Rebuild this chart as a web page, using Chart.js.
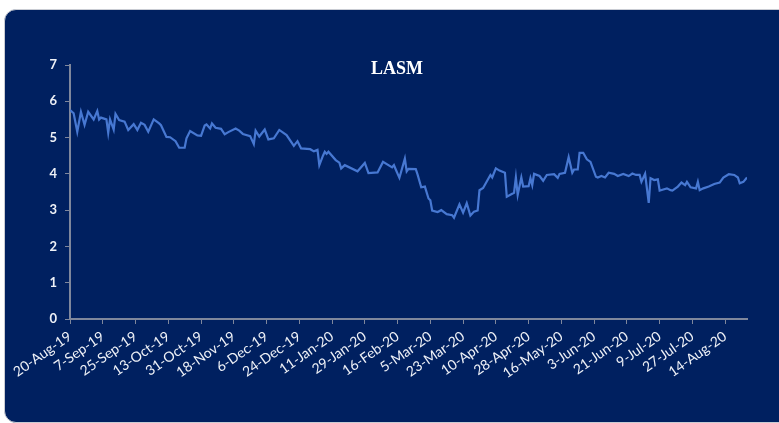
<!DOCTYPE html>
<html>
<head>
<meta charset="utf-8">
<script src="https://cdn.jsdelivr.net/npm/chart.js@4"></script>
<style>
  html, body { margin: 0; padding: 0; background: #fff; }
  #panel {
    position: absolute; left: 4px; top: 9px; width: 800px; height: 412px;
    background: #002060; border: 1px solid #c9ccd3; border-radius: 12px;
  }
  #wrap { position: absolute; left: 0; top: 0; width: 779px; height: 423px; }
</style>
</head>
<body>
<div id="panel"></div>
<div id="wrap"><canvas id="lasmChart" width="779" height="423"></canvas></div>
<script>
// days since 20-Aug-19
const days = [0, 2, 4, 6, 8, 10, 13, 15, 16, 17, 20, 21, 22, 24, 25, 27, 30, 32, 35, 37,
  39, 41, 43, 46, 49, 50, 53, 55, 58, 60, 63, 64, 66, 70, 72, 74, 75, 77, 78, 80,
  83, 85, 87, 91, 93, 95, 99, 101, 102, 104, 107, 109, 112, 115, 119, 123, 125, 127, 132, 134,
  136, 137, 139, 140, 141, 142, 146, 148, 149, 151, 158, 162, 164, 169, 172, 177, 178, 179, 181, 184,
  185, 186, 190, 191, 193, 195, 197, 198, 199, 202, 204, 207, 210, 211, 214, 216, 218, 220, 222, 224,
  225, 227, 228, 231, 232, 234, 236, 239, 240, 244, 245, 246, 248, 249, 252, 253, 254, 255, 258, 260,
  262, 266, 268, 269, 272, 274, 276, 277, 279, 280, 282, 284, 286, 289, 290, 292, 294, 296, 299, 301,
  304, 307, 309, 311, 313, 314, 316, 318, 319, 321, 323, 324, 326, 328, 330, 331, 334, 336, 338, 339,
  341, 344, 345, 346, 348, 351, 354, 357, 359, 362, 365, 367, 368, 370, 372];

const lasm = [5.76, 5.67, 5.16, 5.71, 5.35, 5.71, 5.50, 5.73, 5.50, 5.55, 5.50, 5.13, 5.50, 5.22, 5.65, 5.48, 5.44, 5.21, 5.37, 5.21,
  5.41, 5.35, 5.16, 5.50, 5.39, 5.34, 5.02, 5.01, 4.90, 4.72, 4.72, 4.98, 5.18, 5.06, 5.05, 5.33, 5.36, 5.25, 5.39, 5.27,
  5.24, 5.09, 5.15, 5.25, 5.19, 5.10, 5.04, 4.82, 5.19, 5.03, 5.22, 4.95, 4.98, 5.21, 5.07, 4.77, 4.90, 4.70, 4.68, 4.62,
  4.66, 4.24, 4.50, 4.61, 4.55, 4.61, 4.38, 4.31, 4.15, 4.24, 4.07, 4.30, 4.02, 4.04, 4.33, 4.18, 4.24, 4.12, 3.89, 4.42,
  4.07, 4.14, 4.13, 3.98, 3.63, 3.65, 3.32, 3.27, 2.99, 2.95, 3.00, 2.89, 2.86, 2.79, 3.16, 2.93, 3.19, 2.85, 2.96, 2.99,
  3.55, 3.61, 3.70, 3.97, 3.90, 4.15, 4.09, 4.03, 3.37, 3.48, 3.90, 3.42, 3.90, 3.65, 3.66, 3.88, 3.69, 4.00, 3.94, 3.81,
  3.97, 3.99, 3.89, 4.00, 4.03, 4.46, 4.03, 4.12, 4.12, 4.58, 4.58, 4.40, 4.33, 3.92, 3.90, 3.94, 3.90, 4.03, 4.00, 3.94,
  4.00, 3.94, 4.01, 3.97, 3.97, 3.78, 4.00, 3.20, 3.88, 3.83, 3.85, 3.54, 3.57, 3.60, 3.55, 3.54, 3.65, 3.76, 3.69, 3.78,
  3.63, 3.60, 3.78, 3.55, 3.60, 3.65, 3.72, 3.76, 3.90, 3.99, 3.97, 3.90, 3.74, 3.78, 3.90];

// one label every 18 days
const xLabels = ["20-Aug-19", "7-Sep-19", "25-Sep-19", "13-Oct-19", "31-Oct-19", "18-Nov-19", "6-Dec-19",
  "24-Dec-19", "11-Jan-20", "29-Jan-20", "16-Feb-20", "5-Mar-20", "23-Mar-20", "10-Apr-20", "28-Apr-20",
  "16-May-20", "3-Jun-20", "21-Jun-20", "9-Jul-20", "27-Jul-20", "14-Aug-20"];
const yTicks = [0, 1, 2, 3, 4, 5, 6, 7];

const titlePlugin = {
  id: "lasmTitle",
  afterDraw(chart) {
    const c = chart.ctx;
    c.save();
    c.fillStyle = "#ffffff";
    c.font = "bold 18px 'Liberation Serif', 'Times New Roman', serif";
    c.textAlign = "center";
    c.textBaseline = "middle";
    c.fillText("LASM", 397, 69);
    c.restore();
  }
};

const axisColor = "#7f879c";

new Chart(document.getElementById("lasmChart"), {
  type: "line",
  data: {
    datasets: [{
      label: "LASM",
      data: days.map((d, i) => ({ x: d, y: lasm[i] })),
      borderColor: "#4778d2",
      borderWidth: 2.2,
      pointRadius: 0,
      tension: 0,
      fill: false
    }]
  },
  options: {
    responsive: false,
    animation: false,
    layout: { padding: { top: 65, right: 32, left: 0, bottom: 0 } },
    plugins: { legend: { display: false }, tooltip: { enabled: false } },
    scales: {
      x: {
        type: "linear",
        min: 0,
        max: 372,
        afterFit: (s) => { s.height = 104; },
        afterBuildTicks: (s) => { s.ticks = xLabels.map((_, i) => ({ value: i * 18 })); },
        border: { color: axisColor, width: 2 },
        grid: { display: true, drawOnChartArea: false, drawTicks: true, tickLength: 5, color: axisColor },
        ticks: {
          minRotation: 35,
          maxRotation: 35,
          autoSkip: false,
          padding: 4,
          color: "#eef1f7",
          font: { family: "Lato", size: 14 },
          callback: (v) => xLabels[Math.round(v / 18)]
        }
      },
      y: {
        min: 0,
        max: 7,
        afterFit: (s) => { s.width = 70; },
        afterBuildTicks: (s) => { s.ticks = yTicks.map((v) => ({ value: v })); },
        border: { color: axisColor, width: 2 },
        grid: { display: true, drawOnChartArea: false, drawTicks: true, tickLength: 5, color: axisColor },
        ticks: {
          padding: 8,
          color: "#eef1f7",
          font: { family: "Lato", size: 13, weight: "bold" }
        }
      }
    }
  },
  plugins: [titlePlugin]
});
</script>
</body>
</html>
